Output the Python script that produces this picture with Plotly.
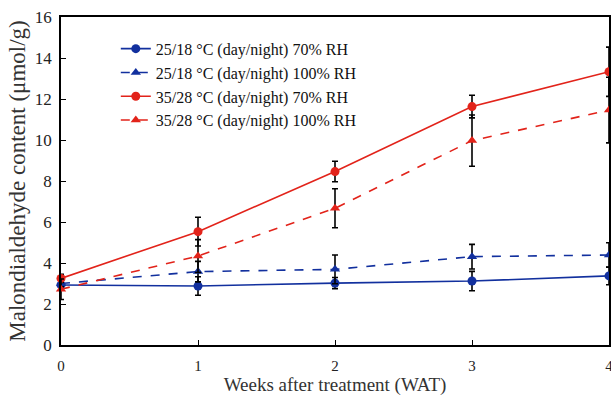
import plotly.graph_objects as go

weeks = [0, 1, 2, 3, 4]
names = [
    "25/18 °C (day/night) 70% RH",
    "25/18 °C (day/night) 100% RH",
    "35/28 °C (day/night) 70% RH",
    "35/28 °C (day/night) 100% RH",
]
blue_70 = [2.93, 2.88, 3.02, 3.12, 3.37]
blue_70_err = [0.15, 0.45, 0.27, 0.47, 0.43]
blue_100 = [3.0, 3.58, 3.69, 4.31, 4.39]
blue_100_err = [0.15, 0.5, 0.7, 0.6, 0.6]
red_70 = [3.25, 5.53, 8.46, 11.63, 13.33]
red_70_err = [0.2, 0.7, 0.5, 0.55, 1.2]
red_100 = [2.72, 4.34, 6.67, 9.97, 11.46]
red_100_err = [0.5, 0.8, 0.95, 1.25, 1.6]
y_ticks = [0, 2, 4, 6, 8, 10, 12, 14, 16]

BLUE = "#12309e"
RED = "#e2231a"
series = [
    (blue_70, blue_70_err, BLUE, "solid", "circle"),
    (blue_100, blue_100_err, BLUE, "dash", "triangle-up"),
    (red_70, red_70_err, RED, "solid", "circle"),
    (red_100, red_100_err, RED, "dash", "triangle-up"),
]

fig = go.Figure()
for name, (ys, err, col, dash, sym) in zip(names, series):
    fig.add_trace(go.Scatter(
        x=weeks, y=ys, name=name, mode="lines+markers",
        line=dict(color=col, width=1.6, dash=dash),
        marker=dict(color=col, symbol=sym, size=9),
        error_y=dict(type="data", array=err, color="black", thickness=1.6, width=3),
        cliponaxis=False,
    ))

font_family = "Liberation Serif"
fig.update_layout(
    width=611, height=396,
    margin=dict(l=61, r=2, t=17, b=51, autoexpand=False),
    plot_bgcolor="white", paper_bgcolor="white",
    font=dict(family=font_family, size=16, color="#222"),
    showlegend=True,
    legend=dict(
        x=0.10, y=0.955, xanchor="left", yanchor="top",
        bgcolor="rgba(0,0,0,0)", font=dict(size=16, family=font_family, color="#111"),
        tracegroupgap=0, itemwidth=30,
    ),
    xaxis=dict(
        range=[0, 4], tickvals=weeks, ticks="inside", ticklen=5, tickcolor="black",
        showline=True, linecolor="black", linewidth=1.5, mirror=True,
        showgrid=False, zeroline=False, automargin=False,
        ticklabeloverflow="allow", ticklabelstandoff=6,
        title=dict(text="Weeks after treatment (WAT)", font=dict(size=19, family=font_family, color="#333"), standoff=0),
        tickfont=dict(size=15, family=font_family, color="#222"),
    ),
    yaxis=dict(
        range=[0, 16], tickvals=y_ticks, ticks="inside", ticklen=5, tickcolor="black",
        showline=True, linecolor="black", linewidth=1.5, mirror=True,
        showgrid=False, zeroline=False, automargin=False,
        ticklabeloverflow="allow",
        title=dict(text="Malondialdehyde content (μmol/g)", font=dict(size=23, family=font_family, color="#333"), standoff=3),
        tickfont=dict(size=17, family=font_family, color="#222"),
        ticklabelstandoff=4,
    ),
)
fig.write_html(
    "out.html",
    config={"displayModeBar": False},
    post_script="document.body.style.margin='0px';document.body.style.overflow='hidden';",
)
